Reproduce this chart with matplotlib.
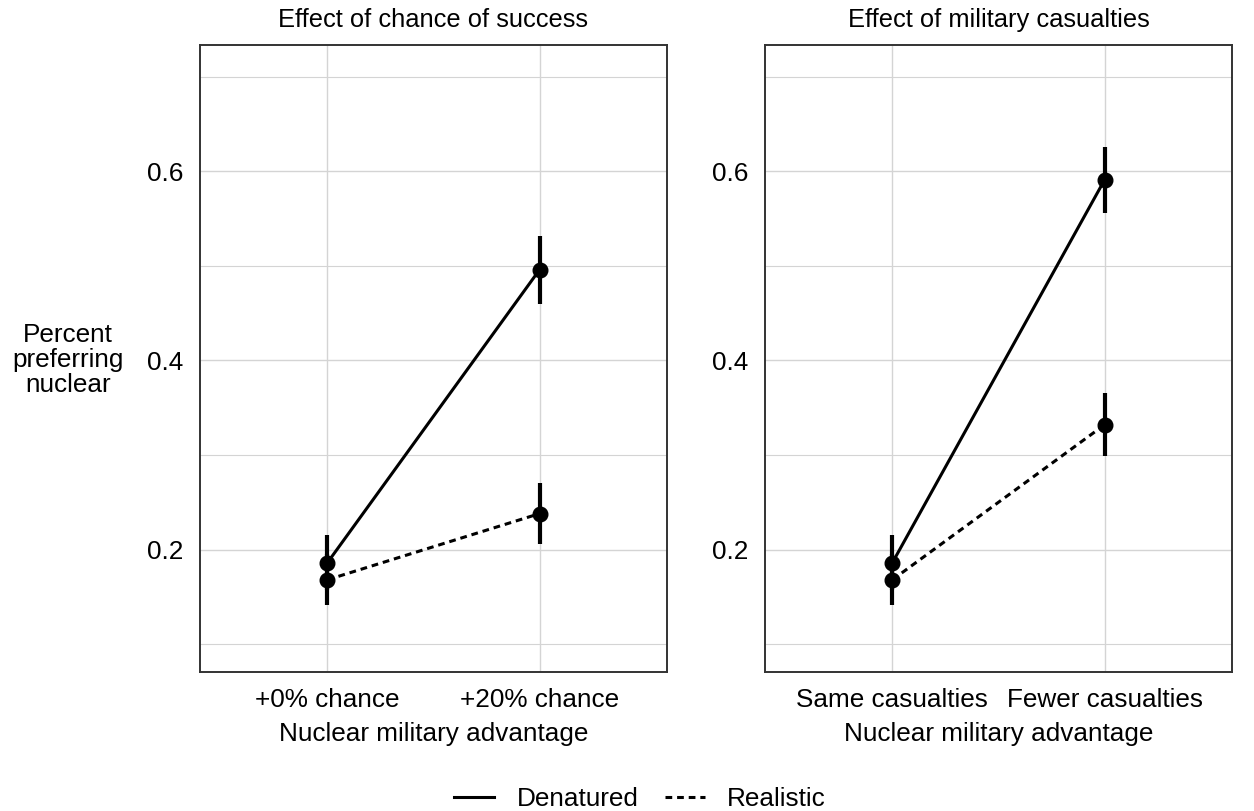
import matplotlib.pyplot as plt
from matplotlib.lines import Line2D

plt.rcParams['font.family'] = ['Liberation Sans', 'DejaVu Sans']

# data
panel_titles = ["Effect of chance of success", "Effect of military casualties"]
left_cats = ["+0% chance", "+20% chance"]
right_cats = ["Same casualties", "Fewer casualties"]

left_denatured = [0.186, 0.496]
left_denatured_ci = [0.029, 0.036]
left_realistic = [0.168, 0.238]
left_realistic_ci = [0.027, 0.032]

right_denatured = [0.186, 0.591]
right_denatured_ci = [0.029, 0.035]
right_realistic = [0.168, 0.332]
right_realistic_ci = [0.027, 0.033]

y_ticks = [0.2, 0.4, 0.6]
y_minor = [0.1, 0.3, 0.5, 0.7]

fs = 18.8

fig = plt.figure(figsize=(12.54, 8.11), dpi=100)
ax_left = fig.add_axes([200 / 1254, 1 - 672 / 811, 467 / 1254, 627 / 811])
ax_right = fig.add_axes([765 / 1254, 1 - 672 / 811, 467 / 1254, 627 / 811])

grid_col = "#d4d4d4"
dash = (0, (2.2, 1.6))


def draw_panel(ax, title, cats, den, den_ci, real, real_ci):
    xs = [1, 2]
    ax.set_xlim(0.4, 2.6)
    ax.set_ylim(0.0705, 0.7335)
    ax.set_yticks(y_ticks)
    ax.set_yticklabels([str(t) for t in y_ticks])
    ax.set_yticks(y_minor, minor=True)
    ax.set_xticks(xs)
    ax.set_xticklabels(cats)
    ax.grid(True, which="major", color=grid_col, lw=1.0)
    ax.grid(True, which="minor", axis="y", color=grid_col, lw=0.8)
    ax.set_axisbelow(True)
    ax.tick_params(which="both", length=0, labelsize=fs, colors="black")
    ax.tick_params(axis="y", pad=12)
    ax.tick_params(axis="x", pad=11.5)
    for s in ax.spines.values():
        s.set_color("#333333")
        s.set_linewidth(1.4)

    ax.plot(xs, real, color="black", lw=2.2, linestyle=dash, zorder=3)
    ax.plot(xs, den, color="black", lw=2.2, zorder=3)
    ax.errorbar(xs, real, yerr=real_ci, fmt="none", ecolor="black", elinewidth=3, zorder=4)
    ax.errorbar(xs, den, yerr=den_ci, fmt="none", ecolor="black", elinewidth=3, zorder=4)
    ax.plot(xs, real, "o", color="black", markersize=10.5, zorder=5)
    ax.plot(xs, den, "o", color="black", markersize=10.5, zorder=5)

    ax.set_title(title, fontsize=18.4, pad=13)
    ax.set_xlabel("Nuclear military advantage", fontsize=fs, labelpad=7)


draw_panel(ax_left, panel_titles[0], left_cats, left_denatured, left_denatured_ci,
           left_realistic, left_realistic_ci)
draw_panel(ax_right, panel_titles[1], right_cats, right_denatured, right_denatured_ci,
           right_realistic, right_realistic_ci)

fig.text(68 / 1254, 1 - 360 / 811, "Percent\npreferring\nnuclear", fontsize=fs,
         ha="center", va="center", linespacing=1.05)

handles = [Line2D([], [], color="black", lw=2.2),
           Line2D([], [], color="black", lw=2.2, linestyle=dash)]
fig.legend(handles, ["Denatured", "Realistic"], loc="center",
           bbox_to_anchor=(640 / 1254, 1 - 799 / 811), ncol=2, frameon=False,
           fontsize=fs, handlelength=1.55, columnspacing=1.0, handletextpad=0.85,
           borderpad=0.2)

fig.savefig("out.png", dpi=100)
